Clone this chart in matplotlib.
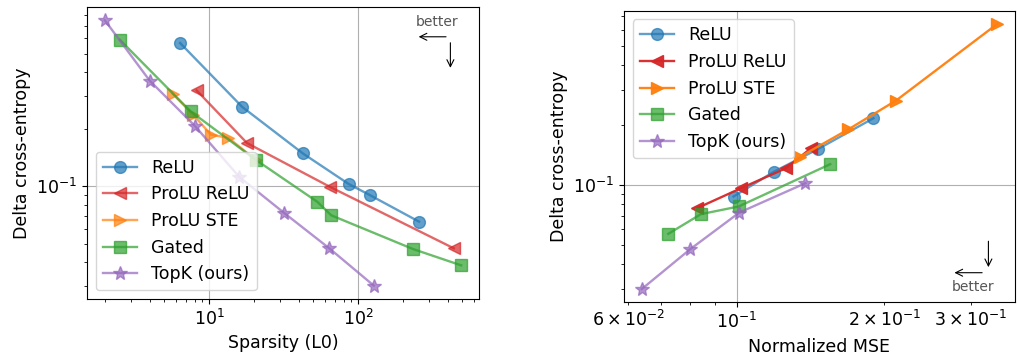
import matplotlib
matplotlib.use("Agg")
import matplotlib.pyplot as plt

plt.rcParams['font.family'] = ['DejaVu Sans']
plt.rcParams['font.size'] = 12.5

labels = ["ReLU", "ProLU ReLU", "ProLU STE", "Gated", "TopK (ours)"]
markers = ["o", "<", ">", "s", "*"]
colors = ["C0", "C3", "C1", "C2", "C4"]

# Left panel: sparsity (L0) vs delta CE
relu_l0 = [6.4, 16.7, 42.7, 86.5, 121, 257]
relu_ce_l = [0.568, 0.262, 0.149, 0.103, 0.0897, 0.0652]
prolu_relu_l0 = [8.26, 18.0, 65.2, 440]
prolu_relu_ce_l = [0.320, 0.169, 0.0992, 0.0472]
prolu_ste_l0 = [5.7, 7.85, 10.3, 13.5, 20.6]
prolu_ste_ce_l = [0.307, 0.238, 0.187, 0.180, 0.138]
gated_l0 = [2.52, 7.53, 20.7, 53.5, 66.2, 234, 493]
gated_ce_l = [0.591, 0.248, 0.1376, 0.0828, 0.0704, 0.0468, 0.0384]
topk_l0 = [2, 4, 8, 16, 32, 64, 128]
topk_ce_l = [0.748, 0.360, 0.209, 0.112, 0.0724, 0.0473, 0.030]

# Right panel: normalized MSE vs delta CE
relu_mse = [0.0984, 0.1188, 0.1466, 0.190]
relu_ce_r = [0.0874, 0.1162, 0.1516, 0.216]
prolu_relu_mse = [0.0829, 0.1019, 0.1259, 0.1416]
prolu_relu_ce_r = [0.0764, 0.0962, 0.1212, 0.1527]
prolu_ste_mse = [0.1347, 0.1689, 0.2113, 0.340]
prolu_ste_ce_r = [0.1387, 0.190, 0.265, 0.642]
gated_mse = [0.0724, 0.0844, 0.1008, 0.155]
gated_ce_r = [0.0568, 0.0713, 0.0779, 0.127]
topk_mse = [0.0639, 0.0803, 0.1011, 0.138]
topk_ce_r = [0.030, 0.0476, 0.0726, 0.102]

left_series = [(relu_l0, relu_ce_l), (prolu_relu_l0, prolu_relu_ce_l),
               (prolu_ste_l0, prolu_ste_ce_l), (gated_l0, gated_ce_l),
               (topk_l0, topk_ce_l)]
right_series = [(relu_mse, relu_ce_r), (prolu_relu_mse, prolu_relu_ce_r),
                (prolu_ste_mse, prolu_ste_ce_r), (gated_mse, gated_ce_r),
                (topk_mse, topk_ce_r)]

W, H = 1017, 356
fig = plt.figure(figsize=(W / 100, H / 100), dpi=100)
ax1 = fig.add_axes([87 / W, (H - 299) / H, 392 / W, 292 / H])
ax2 = fig.add_axes([624 / W, (H - 302.3) / H, 391 / W, 291.6 / H])

for ax, series, alphas in [(ax1, left_series, [0.7] * 5),
                           (ax2, right_series, [0.7, 0.95, 0.95, 0.7, 0.7])]:
    for (x, y), lab, m, c, a in zip(series, labels, markers, colors, alphas):
        ax.plot(x, y, marker=m, color=c, label=lab, markersize=8.5 if m != "*" else 10.5,
                linewidth=1.7, alpha=a)
    ax.set_xscale("log")
    ax.set_yscale("log")
    ax.grid(True, which="major", color="#b0b0b0", linewidth=0.8)
    ax.set_ylabel("Delta cross-entropy")

ax1.set_xlabel("Sparsity (L0)")
ax2.set_xlabel("Normalized MSE")
ax1.legend(loc="lower left")
ax2.legend(loc="upper left")

arrowprops = dict(arrowstyle="->", color="black", lw=0.8)
# left "better" annotation
ax1.text(0.893, 0.950, "better", transform=ax1.transAxes, ha="center", va="center",
         fontsize=10, color="#555555")
ax1.annotate("", xy=(0.839, 0.898), xytext=(0.923, 0.898), xycoords="axes fraction",
             arrowprops=arrowprops)
ax1.annotate("", xy=(0.927, 0.782), xytext=(0.927, 0.887), xycoords="axes fraction",
             arrowprops=arrowprops)
# right "better" annotation
ax2.text(0.893, 0.051, "better", transform=ax2.transAxes, ha="center", va="center",
         fontsize=10, color="#555555")
ax2.annotate("", xy=(0.838, 0.1015), xytext=(0.923, 0.1015), xycoords="axes fraction",
             arrowprops=arrowprops)
ax2.annotate("", xy=(0.932, 0.111), xytext=(0.932, 0.219), xycoords="axes fraction",
             arrowprops=arrowprops)

fig.savefig("out.png", dpi=100)
